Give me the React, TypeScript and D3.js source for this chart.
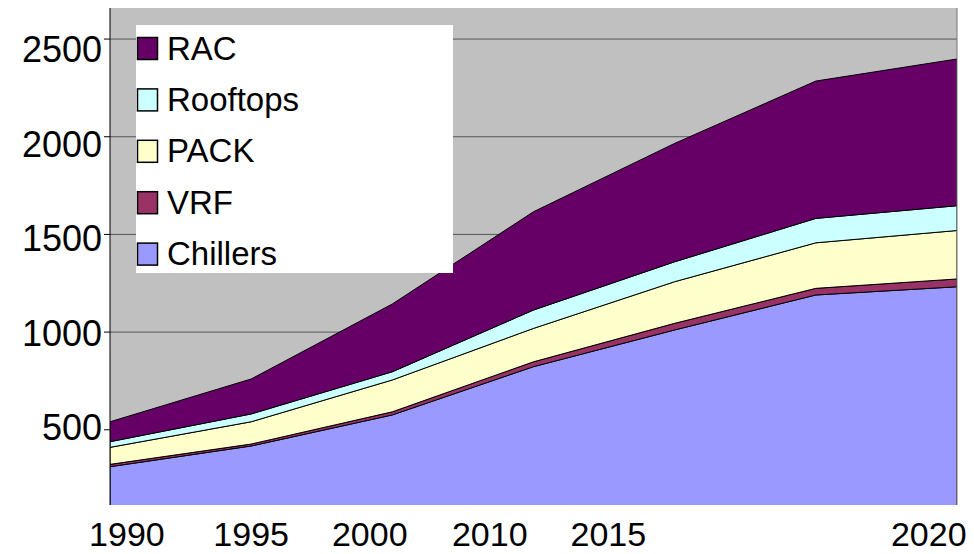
import * as d3 from 'd3'

// series values, one per point (stack order bottom -> top)
const chillers = [311, 417, 576, 823, 1011, 1190, 1232]
const vrf = [12, 10, 16, 25, 34, 34, 40]
const pack = [87, 114, 163, 171, 213, 233, 248]
const rooftops = [29, 40, 42, 94, 102, 125, 127]
const rac = [102, 179, 347, 503, 606, 703, 751]

const seriesNames = ['Chillers', 'VRF', 'PACK', 'Rooftops', 'RAC']
const seriesValues = [chillers, vrf, pack, rooftops, rac]
const seriesColors = ['#9999ff', '#993366', '#ffffcc', '#ccffff', '#660066']

// x tick labels and where they sit, in point-index units (labels are not aligned to points)
const xTickLabels = ['1990', '1995', '2000', '2010', '2015', '2020']
const xTickAt = [0.12, 1.0, 1.84, 2.69, 3.53, 5.8]

const yTicks = [500, 1000, 1500, 2000, 2500]

const W = 974
const H = 554
const plot = { left: 110, right: 957, top: 8, bottom: 505 }

type Row = Record<string, number>

const rows: Row[] = chillers.map((_, i) => {
  const r: Row = {}
  seriesNames.forEach((n, k) => (r[n] = seriesValues[k][i]))
  return r
})

export default function App() {
  const x = d3.scaleLinear().domain([0, chillers.length - 1]).range([plot.left, plot.right])
  const y = d3.scaleLinear().domain([115, 2659]).range([plot.bottom, plot.top])
  // tick labels drift slightly from their ticks in the original
  const yLabel = d3.scaleLinear().domain([500, 2500]).range([427, 49])

  const stacked = d3.stack<Row>().keys(seriesNames)(rows)

  const area = d3
    .area<d3.SeriesPoint<Row>>()
    .x((_, i) => x(i))
    .y0((d) => y(d[0]))
    .y1((d) => y(d[1]))

  const font = '"Liberation Sans", Arial, sans-serif'

  // legend, top item = last series
  const legendOrder = [...seriesNames.keys()].reverse()
  const legend = { x: 136, y: 25, w: 317, h: 248, first: 48.5, step: 51.4 }

  return (
    <svg
      width={W}
      height={H}
      style={{ position: 'absolute', left: 0, top: 0, background: '#fff' }}
    >
      <defs>
        <clipPath id="plotClip">
          <rect
            x={plot.left}
            y={plot.top}
            width={plot.right - plot.left}
            height={plot.bottom - plot.top}
          />
        </clipPath>
      </defs>

      {/* plot background */}
      <rect
        x={plot.left}
        y={plot.top}
        width={plot.right - plot.left}
        height={plot.bottom - plot.top}
        fill="#c0c0c0"
      />

      {/* grid */}
      {yTicks.map((t) => (
        <line
          key={t}
          x1={plot.left}
          x2={plot.right}
          y1={y(t)}
          y2={y(t)}
          stroke="#555"
          strokeWidth={1}
        />
      ))}

      {/* stacked areas */}
      <g clipPath="url(#plotClip)">
        {stacked.map((s, k) => (
          <path
            key={s.key}
            d={area(s) ?? ''}
            fill={seriesColors[k]}
            stroke="#000"
            strokeWidth={1}
            strokeLinejoin="round"
          />
        ))}
      </g>

      {/* right edge */}
      <line x1={plot.right} x2={plot.right} y1={plot.top} y2={plot.bottom} stroke="#777" />

      {/* y axis */}
      <line x1={plot.left} x2={plot.left} y1={plot.top} y2={plot.bottom} stroke="#000" />
      {yTicks.map((t) => (
        <g key={t}>
          <line x1={plot.left - 6} x2={plot.left} y1={y(t)} y2={y(t)} stroke="#000" />
          <text
            x={102}
            y={yLabel(t) + 13}
            textAnchor="end"
            fontFamily={font}
            fontSize={36}
            fill="#000"
          >
            {t}
          </text>
        </g>
      ))}

      {/* x labels */}
      {xTickLabels.map((lab, i) => (
        <text
          key={lab}
          x={x(xTickAt[i])}
          y={546}
          textAnchor="middle"
          fontFamily={font}
          fontSize={34}
          fill="#000"
        >
          {lab}
        </text>
      ))}

      {/* legend */}
      <rect x={legend.x} y={legend.y} width={legend.w} height={legend.h} fill="#fff" />
      {legendOrder.map((k, j) => {
        const cy = legend.first + j * legend.step
        return (
          <g key={seriesNames[k]}>
            <rect
              x={legend.x + 1.5}
              y={cy - 11}
              width={20}
              height={22}
              fill={seriesColors[k]}
              stroke="#000"
              strokeWidth={1.5}
            />
            <text
              x={legend.x + 31}
              y={cy + 11}
              fontFamily={font}
              fontSize={33}
              fill="#000"
            >
              {seriesNames[k]}
            </text>
          </g>
        )
      })}
    </svg>
  )
}
